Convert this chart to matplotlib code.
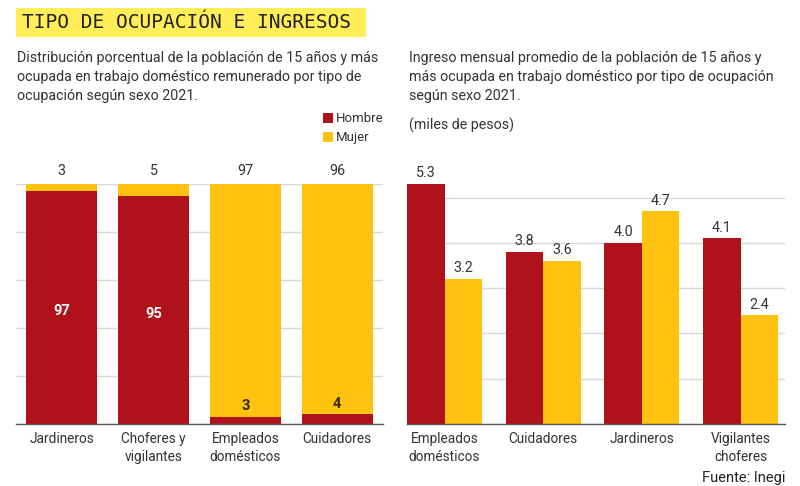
import matplotlib
matplotlib.use("Agg")
import matplotlib.pyplot as plt
from matplotlib.patches import Rectangle
import numpy as np

# ---- data ----
left_categories = ["Jardineros", "Choferes y\nvigilantes", "Empleados\ndomésticos", "Cuidadores"]
left_hombre = [97, 95, 3, 4]
left_mujer = [3, 5, 97, 96]

right_categories = ["Empleados\ndomésticos", "Cuidadores", "Jardineros", "Vigilantes\nchoferes"]
right_hombre = [5.3, 3.8, 4.0, 4.1]
right_mujer = [3.2, 3.6, 4.7, 2.4]

RED = "#B0121B"
YELLOW = "#FFC20E"
TEXT = "#333333"
GRID = "#D9D9D9"
COND = ["Roboto", "DejaVu Sans"]

fig = plt.figure(figsize=(8, 4.86), dpi=100)
W, H = 800, 486

def fx(px):
    return px / W

def fy(py):
    return 1 - py / H

# Title with yellow box
fig.patches.append(Rectangle((fx(16), fy(37)), fx(366) - fx(16), fy(8) - fy(37),
                             transform=fig.transFigure, facecolor="#FFEE58",
                             edgecolor="none", zorder=0))
fig.text(fx(22), fy(22.5), "TIPO DE OCUPACIÓN E INGRESOS", family="DejaVu Sans Mono",
         fontsize=14, color="#222222", va="center", ha="left")

fig.text(fx(17), fy(51), "Distribución porcentual de la población de 15 años y más\n"
         "ocupada en trabajo doméstico remunerado por tipo de\nocupación según sexo 2021.",
         family=COND, fontsize=10.3, color=TEXT, va="top", ha="left", linespacing=1.45)
fig.text(fx(409), fy(51), "Ingreso mensual promedio de la población de 15 años y\n"
         "más ocupada en trabajo doméstico por tipo de ocupación\nsegún sexo 2021.",
         family=COND, fontsize=10.3, color=TEXT, va="top", ha="left", linespacing=1.45)
fig.text(fx(409), fy(118), "(miles de pesos)", family=COND, fontsize=10.3,
         color=TEXT, va="top", ha="left")

# Legend
for i, (lab, col) in enumerate([("Hombre", RED), ("Mujer", YELLOW)]):
    y0 = 113 + i * 19
    fig.patches.append(Rectangle((fx(323), fy(y0 + 10)), fx(10), fy(y0) - fy(y0 + 10),
                                 transform=fig.transFigure, facecolor=col, edgecolor="none"))
    fig.text(fx(336), fy(y0 + 5), lab, family=COND, fontsize=9.5, color=TEXT,
             va="center", ha="left")

bottom = fy(424)
top = fy(184)

# ---- Left chart ----
axl = fig.add_axes([fx(16), bottom, fx(383) - fx(16), top - bottom])
xl = np.arange(len(left_categories))
axl.bar(xl, left_hombre, width=0.775, color=RED, zorder=2)
axl.bar(xl, left_mujer, width=0.775, bottom=left_hombre, color=YELLOW, zorder=2)
axl.set_xlim(-0.5, 3.5)
axl.set_ylim(0, 100)
axl.set_yticks([0, 20, 40, 60, 80, 100])
for i, (h, m) in enumerate(zip(left_hombre, left_mujer)):
    axl.text(i, h + m + 2.5, f"{m}", ha="center", va="bottom", family=COND,
             fontsize=10.3, color=TEXT)
    if h >= 50:
        axl.text(i, h / 2 - 1.5, f"{h}", ha="center", va="center", family=COND,
                 fontsize=10.5, color="white", fontweight="bold")
    else:
        axl.text(i, h + 1.5, f"{h}", ha="center", va="bottom", family=COND,
                 fontsize=10.5, color="#3a2a00", fontweight="bold")
axl.set_xticks(xl)
axl.set_xticklabels(left_categories, family=COND, fontsize=9.8, color=TEXT,
                    linespacing=1.35)

# ---- Right chart ----
axr = fig.add_axes([fx(407), bottom, fx(785) - fx(407), top - bottom])
xr = np.arange(len(right_categories))
bw = 0.38
axr.bar(xr - bw / 2, right_hombre, width=bw, color=RED, zorder=2)
axr.bar(xr + bw / 2, right_mujer, width=bw, color=YELLOW, zorder=2)
axr.set_xlim(-0.38, 3.45)
axr.set_ylim(0, 5.3)
axr.set_yticks([0, 1, 2, 3, 4, 5])
for i, (h, m) in enumerate(zip(right_hombre, right_mujer)):
    axr.text(i - bw / 2, h + 0.08, f"{h:.1f}", ha="center", va="bottom", family=COND,
             fontsize=10.3, color=TEXT)
    axr.text(i + bw / 2, m + 0.08, f"{m:.1f}", ha="center", va="bottom", family=COND,
             fontsize=10.3, color=TEXT)
axr.set_xticks(xr)
axr.set_xticklabels(right_categories, family=COND, fontsize=9.8, color=TEXT,
                    linespacing=1.35)

for ax in (axl, axr):
    for s in ("top", "right", "left"):
        ax.spines[s].set_visible(False)
    ax.spines["bottom"].set_color("#555555")
    ax.spines["bottom"].set_linewidth(1.0)
    ax.yaxis.grid(True, color=GRID, linewidth=1.0, zorder=0)
    ax.set_axisbelow(True)
    ax.tick_params(axis="y", left=False, labelleft=False)
    ax.tick_params(axis="x", length=0, pad=6)

fig.text(fx(785), fy(478), "Fuente: Inegi", family=["Roboto", "DejaVu Sans"],
         fontsize=10.5, color="#222222", ha="right", va="center")

fig.savefig("out.png", dpi=100)
